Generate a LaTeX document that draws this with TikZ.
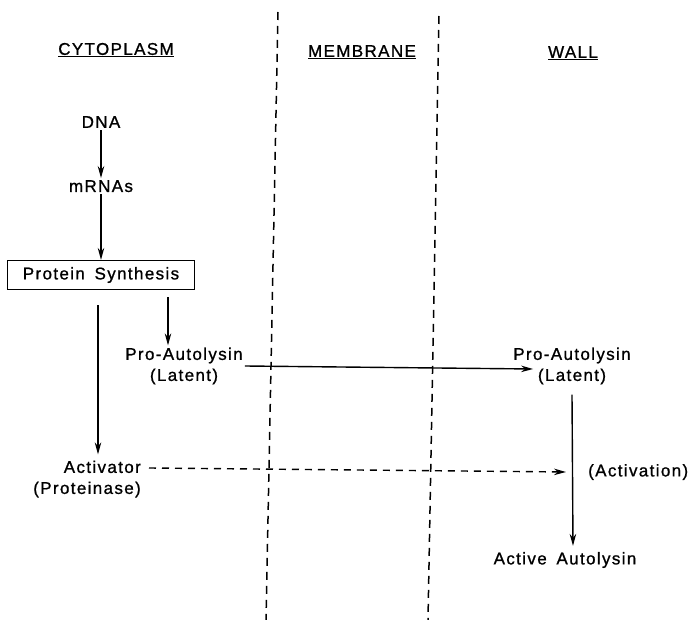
\documentclass[tikz,border=0pt]{standalone}
\usepackage{fontspec}
\setmainfont{Liberation Sans}[LetterSpace=8,WordSpace=1.6,FakeBold=1]
\usetikzlibrary{positioning,arrows.meta}
\tikzset{
  lbl/.style={font=\fontsize{17}{21}\selectfont, align=center, inner sep=2pt},
  box/.style={lbl, draw, line width=1.2pt, minimum width=187pt, minimum height=29pt},
  arr/.style={-{Stealth[length=12pt,width=6.5pt]}, line width=1.4pt},
  darr/.style={arr, dash pattern=on 7pt off 6pt},
  wall line/.style={line width=1.5pt, dash pattern=on 8pt off 6pt},
}

\begin{document}
\begin{tikzpicture}[x=1pt,y=-1pt]
\useasboundingbox (0,0) rectangle (697,620);

% compartment boundaries
\coordinate (m1t) at (278,12);
\coordinate (m1b) at (266,620);
\coordinate (m2t) at (439,16);
\coordinate (m2b) at (428,620);
\draw[wall line] (m1t) -- (m1b);
\draw[wall line] (m2t) -- (m2b);

% headings
\node[lbl] (cyto) at (116,50) {\underline{CYTOPLASM}};
\node[lbl] (memb) at (362,52) {\underline{MEMBRANE}};
\node[lbl] (wall) at (573,53) {\underline{WALL}};

% cytoplasm
\node[lbl] (dna) at (101,122) {DNA};
\node[lbl] (mrna) [below=48pt of dna] {mRNAs};
\node[box] (synth) at (101,275) {Protein Synthesis};
\node[lbl] (proL) at (184,366) {Pro-Autolysin\\(Latent)};
\node[lbl, align=right, anchor=east] (act) at (143,479) {Activator\\(Proteinase)};

% wall
\node[lbl] (proR) at (572,366) {Pro-Autolysin\\(Latent)};
\node[lbl, anchor=west] (actv) at (586,472) {(Activation)};
\node[lbl] (active) at (565,560) {Active Autolysin};

\draw[arr] ([xshift=-3pt,yshift=-15pt]synth.south) -- ([xshift=-3pt,yshift=4pt]synth.south |- act.north);
\draw[arr] (dna) -- (mrna);
\draw[arr] (mrna) -- (synth);
\draw[arr] ([xshift=67pt,yshift=-7pt]synth.south) -- ([xshift=-16pt]proL.north);
\draw[arr] (proL.east) -- ([xshift=22pt,yshift=-3pt]proR.west);
\draw[arr] ([yshift=-8pt]proR.south) -- ([xshift=8pt,yshift=4pt]active.north);
\draw[darr] ([xshift=6pt,yshift=11pt]act.east) -- ([xshift=-20pt]actv.west);
\end{tikzpicture}
\end{document}
